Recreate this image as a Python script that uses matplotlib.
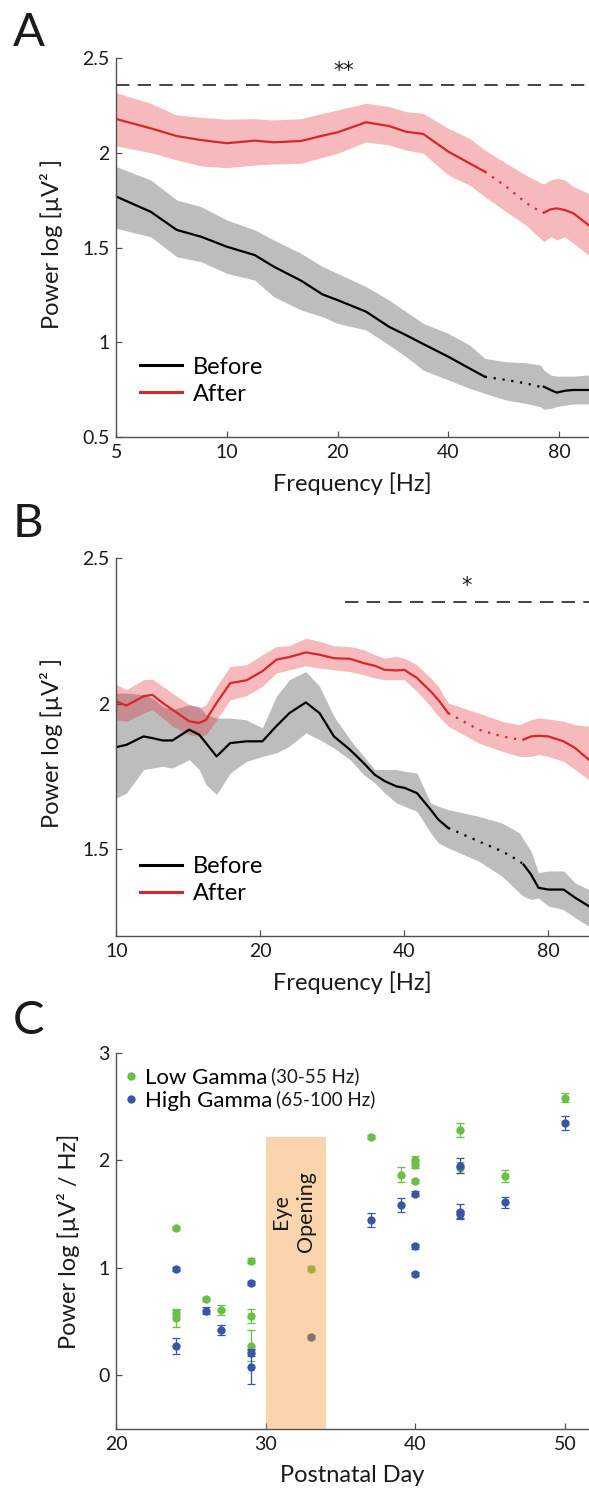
import matplotlib.pyplot as plt
import numpy as np
from matplotlib.lines import Line2D
from matplotlib.patches import Rectangle
from matplotlib.ticker import FixedLocator, NullLocator, FormatStrFormatter

plt.rcParams["font.family"] = ["Lato", "DejaVu Sans"]

# ---- panel A: spectra 5-100 Hz ----
freq_a = [5, 6.2, 7.3, 8.5, 10, 11.9, 13.4, 15.9, 18.2, 20, 23.9, 27.6, 30.7, 34.2,
          40, 45.7, 50.3, 57.5, 65, 71.2, 72.8, 76, 78.9, 83, 87.6, 96.3]
after_a = [2.179, 2.130, 2.089, 2.068, 2.051, 2.065, 2.056, 2.063, 2.091, 2.109, 2.162, 2.142, 2.112, 2.100,
           2.007, 1.945, 1.901, 1.822, 1.737, 1.689, 1.684, 1.702, 1.707, 1.698, 1.681, 1.619]
after_a_hi = [2.318, 2.262, 2.200, 2.188, 2.178, 2.181, 2.174, 2.181, 2.209, 2.227, 2.262, 2.245, 2.218, 2.209,
              2.130, 2.077, 2.015, 1.945, 1.883, 1.843, 1.836, 1.857, 1.866, 1.857, 1.822, 1.786]
after_a_lo = [2.037, 2.001, 1.963, 1.931, 1.922, 1.936, 1.941, 1.945, 1.977, 1.998, 2.058, 2.042, 2.015, 1.998,
              1.883, 1.830, 1.769, 1.689, 1.619, 1.548, 1.531, 1.557, 1.540, 1.557, 1.522, 1.460]
before_a = [1.769, 1.689, 1.593, 1.557, 1.504, 1.460, 1.399, 1.325, 1.252, 1.222, 1.161, 1.081, 1.037, 0.990,
            0.923, 0.861, 0.817, 0.800, 0.782, 0.764, 0.764, 0.747, 0.733, 0.743, 0.747, 0.747]
before_a_hi = [1.927, 1.857, 1.751, 1.716, 1.645, 1.593, 1.540, 1.469, 1.399, 1.363, 1.293, 1.222, 1.161, 1.099,
               1.046, 0.985, 0.914, 0.896, 0.891, 0.879, 0.852, 0.826, 0.820, 0.820, 0.820, 0.826]
before_a_lo = [1.601, 1.557, 1.451, 1.425, 1.363, 1.328, 1.240, 1.170, 1.134, 1.099, 1.064, 0.985, 0.923, 0.852,
               0.800, 0.756, 0.729, 0.694, 0.676, 0.659, 0.645, 0.650, 0.659, 0.667, 0.673, 0.673]
gap_a = (50.3, 72.8)          # dotted (excluded) band
sig_a = ([5, 100], 2.36, "**", 20.8)

# ---- panel B: spectra 10-100 Hz ----
freq_b = [10, 10.5, 11.4, 11.9, 12.5, 13.1, 14.2, 14.9, 15.4, 16.2, 17.3, 18.7, 20.2, 21.6, 23, 24.9,
          26.6, 28.5, 30.8, 32.9, 34.7, 36.4, 38.5, 40, 42.5, 45.4, 47.1, 49.4, 57.2, 64, 69.6, 71,
          73.6, 76.3, 80, 86.1, 91, 97.2]
after_b = [2.007, 1.993, 2.025, 2.030, 2.002, 1.979, 1.939, 1.933, 1.944, 2.002, 2.070, 2.080, 2.111, 2.151,
           2.160, 2.176, 2.168, 2.156, 2.154, 2.139, 2.130, 2.116, 2.114, 2.116, 2.088, 2.042, 2.013, 1.967,
           1.910, 1.887, 1.876, 1.876, 1.887, 1.889, 1.887, 1.870, 1.847, 1.807]
after_b_hi = [2.065, 2.048, 2.082, 2.084, 2.059, 2.036, 1.996, 1.985, 1.996, 2.059, 2.128, 2.133, 2.168, 2.196,
              2.199, 2.225, 2.214, 2.199, 2.196, 2.185, 2.168, 2.156, 2.162, 2.156, 2.133, 2.088, 2.059, 2.002,
              1.967, 1.939, 1.927, 1.933, 1.944, 1.950, 1.947, 1.939, 1.927, 1.922]
after_b_lo = [1.944, 1.939, 1.967, 1.979, 1.950, 1.922, 1.893, 1.887, 1.893, 1.944, 2.013, 2.027, 2.059, 2.105,
              2.116, 2.130, 2.122, 2.116, 2.110, 2.099, 2.088, 2.082, 2.082, 2.082, 2.042, 1.990, 1.956, 1.922,
              1.864, 1.836, 1.818, 1.818, 1.818, 1.824, 1.818, 1.801, 1.773, 1.738]
before_b = [1.850, 1.858, 1.887, 1.881, 1.873, 1.873, 1.910, 1.893, 1.864, 1.818, 1.864, 1.870, 1.870, 1.922,
            1.967, 2.004, 1.967, 1.887, 1.841, 1.795, 1.755, 1.733, 1.715, 1.710, 1.692, 1.635, 1.601, 1.572,
            1.526, 1.492, 1.458, 1.446, 1.412, 1.366, 1.360, 1.360, 1.332, 1.303]
before_b_hi = [2.036, 2.036, 2.030, 2.019, 1.990, 1.979, 1.996, 1.990, 1.962, 1.950, 1.950, 1.944, 1.916, 2.025,
               2.082, 2.110, 2.059, 1.956, 1.876, 1.818, 1.773, 1.773, 1.773, 1.767, 1.761, 1.658, 1.647, 1.635,
               1.612, 1.589, 1.555, 1.532, 1.492, 1.418, 1.424, 1.424, 1.383, 1.360]
before_b_lo = [1.675, 1.692, 1.773, 1.778, 1.784, 1.778, 1.807, 1.773, 1.721, 1.687, 1.761, 1.801, 1.818, 1.830,
               1.853, 1.899, 1.876, 1.847, 1.807, 1.755, 1.727, 1.692, 1.658, 1.647, 1.629, 1.555, 1.521, 1.503,
               1.458, 1.406, 1.349, 1.337, 1.326, 1.331, 1.303, 1.291, 1.263, 1.234]
gap_b = (49.4, 71)
sig_b = ([30, 100], 2.35, "*", 53.9)

# ---- panel C: gamma power by postnatal day ----
low_day = [24, 24, 24, 26, 27, 29, 29, 29, 33, 37, 39, 40, 40, 40, 43, 43, 46, 50]
low_val = [1.370, 0.585, 0.530, 0.713, 0.611, 1.068, 0.552, 0.278, 0.994, 2.219, 1.867, 2.006, 1.960, 1.806,
           2.284, 1.930, 1.852, 2.583]
low_err = [0.02, 0.03, 0.075, 0.02, 0.045, 0.02, 0.065, 0.145, 0.02, 0.02, 0.07, 0.03, 0.03, 0.02,
           0.065, 0.05, 0.055, 0.045]
high_day = [24, 24, 26, 27, 29, 29, 29, 33, 37, 39, 40, 40, 40, 43, 43, 43, 46, 50]
high_val = [0.988, 0.272, 0.602, 0.420, 0.858, 0.207, 0.083, 0.358, 1.444, 1.583, 1.691, 1.201, 0.944,
            1.951, 1.522, 1.497, 1.608, 2.346]
high_err = [0.02, 0.075, 0.03, 0.045, 0.02, 0.03, 0.165, 0.02, 0.062, 0.063, 0.025, 0.025, 0.02,
            0.072, 0.07, 0.03, 0.05, 0.062]
eye_open = (30, 34, 2.22)

RED = "#d7262c"
RED_BAND = "#e21e28"
GREY_BAND = "#bdbdbd"
GREEN = "#6cbf45"
BLUE = "#3856a6"
AXIS_C = "#505050"
TXT = "#1a1a1a"

fig = plt.figure(figsize=(5.89, 14.91), dpi=100)
ax_a = fig.add_axes([0.1975, 0.7071, 0.8025, 0.2538])
ax_b = fig.add_axes([0.1975, 0.3722, 0.8025, 0.2534])
ax_c = fig.add_axes([0.1975, 0.0414, 0.8025, 0.2526])


def style_axes(ax):
    for side in ("top", "right"):
        ax.spines[side].set_visible(False)
    for side in ("left", "bottom"):
        ax.spines[side].set_color(AXIS_C)
        ax.spines[side].set_linewidth(1.0)
    ax.tick_params(direction="in", length=4, width=0.9, color=AXIS_C,
                   labelsize=14, labelcolor=TXT, pad=5)
    ax.patch.set_visible(False)


def draw_curve(ax, freqs, mean, gap, color):
    f = np.asarray(freqs)
    m = np.asarray(mean)
    left = f <= gap[0]
    mid = (f >= gap[0]) & (f <= gap[1])
    right = f >= gap[1]
    kw = dict(color=color, lw=1.6, solid_joinstyle="round")
    ax.plot(f[left], m[left], **kw)
    ax.plot(f[mid], m[mid], ls=(0, (1, 3)), **kw)
    ax.plot(f[right], m[right], **kw)


def spectrum_panel(ax, freqs, before, b_lo, b_hi, after, a_lo, a_hi, gap, sig, ylim, yticks, xlim, xticks):
    ax.fill_between(freqs, b_lo, b_hi, color=GREY_BAND, lw=0)
    ax.fill_between(freqs, a_lo, a_hi, color=RED_BAND, alpha=0.31, lw=0)
    draw_curve(ax, freqs, before, gap, "black")
    draw_curve(ax, freqs, after, gap, RED)
    span, level, stars, star_x = sig
    ax.plot(span, [level, level], color="#222222", lw=1.2, ls=(0, (8, 5)))
    ax.text(star_x, level + 0.02, stars, ha="center", va="bottom", fontsize=15,
            family="DejaVu Sans", color=TXT)
    ax.set_xscale("log")
    ax.set_xlim(*xlim)
    ax.set_ylim(*ylim)
    ax.xaxis.set_major_locator(FixedLocator(xticks))
    ax.xaxis.set_minor_locator(NullLocator())
    ax.xaxis.set_major_formatter(FormatStrFormatter("%g"))
    ax.yaxis.set_major_locator(FixedLocator(yticks))
    ax.yaxis.set_major_formatter(FormatStrFormatter("%g"))
    style_axes(ax)
    ax.set_xlabel("Frequency [Hz]", fontsize=17, color=TXT, va="top")
    ax.xaxis.set_label_coords(0.5, -0.094)
    ax.set_ylabel("Power log [µV² ]", fontsize=17, color=TXT)
    ax.yaxis.set_label_coords(-0.112, 0.51)
    handles = [Line2D([], [], color="black", lw=2.2), Line2D([], [], color=RED, lw=2.2)]
    ax.legend(handles, ["Before", "After"], loc="lower left", bbox_to_anchor=(0.05, 0.085),
              frameon=False, fontsize=17, handlelength=1.8, handletextpad=0.45,
              labelspacing=0.25, borderpad=0, borderaxespad=0)


spectrum_panel(ax_a, freq_a, before_a, before_a_lo, before_a_hi, after_a, after_a_lo, after_a_hi,
               gap_a, sig_a, (0.5, 2.5), [0.5, 1, 1.5, 2, 2.5], (5, 96.6), [5, 10, 20, 40, 80])
spectrum_panel(ax_b, freq_b, before_b, before_b_lo, before_b_hi, after_b, after_b_lo, after_b_hi,
               gap_b, sig_b, (1.2, 2.5), [1.5, 2, 2.5], (10, 97.3), [10, 20, 40, 80])

# ---- panel C ----
ax_c.errorbar(low_day, low_val, yerr=low_err, fmt="o", color=GREEN, ms=6, mec="none",
              elinewidth=0.9, capsize=3, capthick=0.9, zorder=2)
ax_c.errorbar(high_day, high_val, yerr=high_err, fmt="o", color=BLUE, ms=6, mec="none",
              elinewidth=0.9, capsize=3, capthick=0.9, zorder=3)
ax_c.add_patch(Rectangle((eye_open[0], -0.5), eye_open[1] - eye_open[0], eye_open[2] + 0.5,
                         facecolor="#f29a3a", alpha=0.42, lw=0, zorder=4))
ax_c.text((eye_open[0] + eye_open[1]) / 2 - 0.15, 1.52, "Eye\nOpening", rotation=90, ha="center",
          va="center", multialignment="center", fontsize=15.5, color=TXT, linespacing=1.35, zorder=5)
ax_c.set_xlim(20, 51.6)
ax_c.set_ylim(-0.5, 3)
ax_c.xaxis.set_major_locator(FixedLocator([20, 30, 40, 50]))
ax_c.yaxis.set_major_locator(FixedLocator([0, 1, 2, 3]))
style_axes(ax_c)
ax_c.set_xlabel("Postnatal Day", fontsize=17, color=TXT, va="top")
ax_c.xaxis.set_label_coords(0.5, -0.094)
ax_c.set_ylabel("Power log [µV² / Hz]", fontsize=17, color=TXT)
ax_c.yaxis.set_label_coords(-0.076, 0.5)

leg_handles = [Line2D([], [], ls="none", marker="o", ms=6, mec="none", color=GREEN),
               Line2D([], [], ls="none", marker="o", ms=6, mec="none", color=BLUE)]
leg = ax_c.legend(leg_handles, ["Low Gamma", "High Gamma"], loc="upper left", bbox_to_anchor=(0.015, 0.96),
                  frameon=False, fontsize=16, handlelength=0.7, handletextpad=0.25,
                  labelspacing=0.15, borderpad=0, borderaxespad=0)

# place the smaller frequency-range notes right after each legend label
fig.canvas.draw()
inv = ax_c.transAxes.inverted()
for txt, extra in zip(leg.get_texts(), ["(30-55 Hz)", "(65-100 Hz)"]):
    bb = txt.get_window_extent()
    x1, y0 = inv.transform((bb.x1 + 4, bb.y0 + 0.27 * bb.height))
    ax_c.text(x1, y0, extra, transform=ax_c.transAxes, ha="left", va="baseline",
              fontsize=13.5, color=TXT)

for label, ypix in (("A", 12), ("B", 503), ("C", 1000)):
    fig.text(13 / 589, 1 - ypix / 1491, label, fontsize=34, color=TXT, ha="left", va="top")

fig.savefig("out.png", dpi=100)
